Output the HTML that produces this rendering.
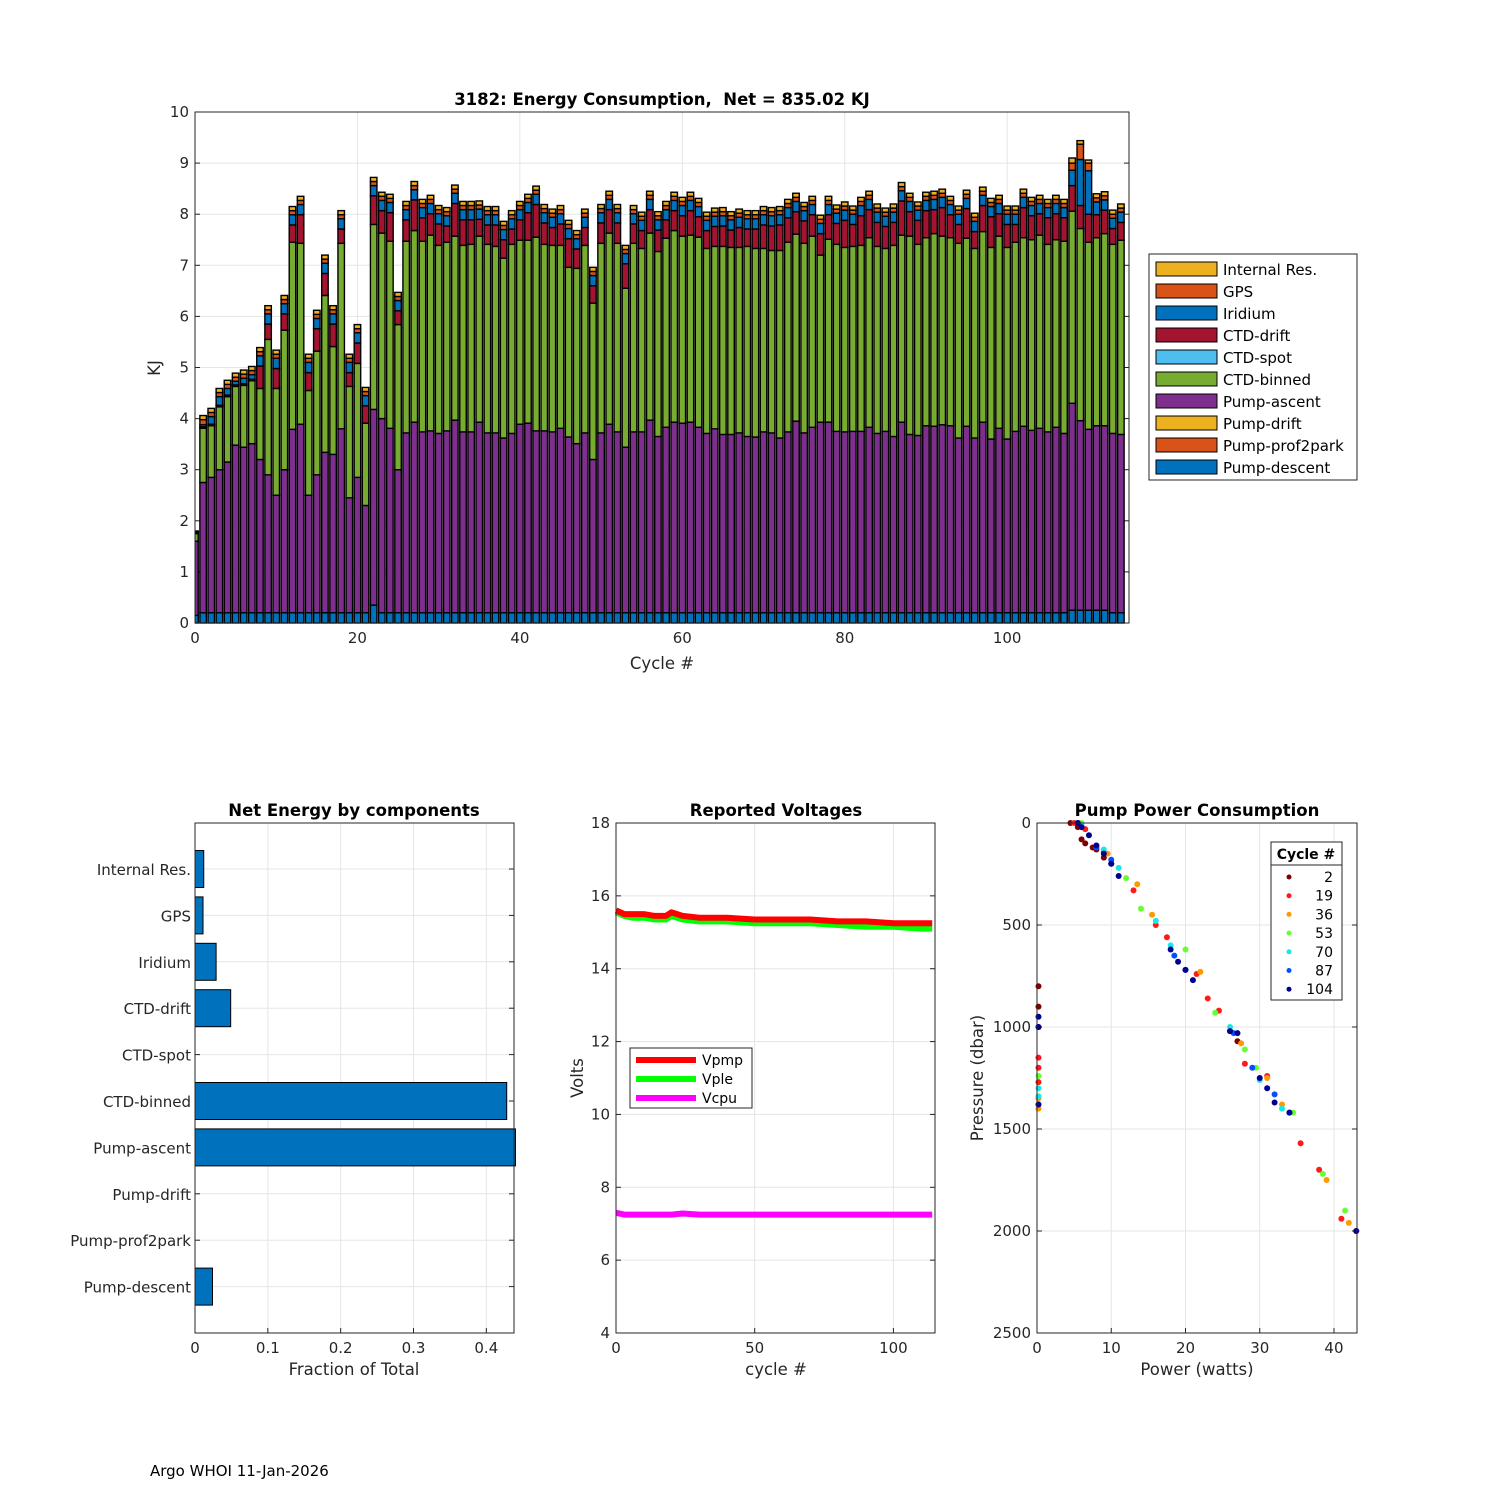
<!DOCTYPE html>
<html><head><meta charset="utf-8">
<style>
html,body{margin:0;padding:0;background:#fff;}
svg{display:block;font-family:"DejaVu Sans","Liberation Sans",sans-serif;}
</style></head>
<body>
<svg id="fig" width="1500" height="1500" viewBox="0 0 1500 1500">
<rect x="0" y="0" width="1500" height="1500" fill="#fff"/>
<text x="150" y="1476" font-size="15" fill="#000">Argo WHOI 11-Jan-2026</text>
</svg>
<script>
// ===== Top chart data (KJ per cycle) =====
const cycles = Array.from({length:115},(_, i)=>i);
const descent = [0.15,0.2,0.2,0.2,0.2,0.2,0.2,0.2,0.2,0.2,0.2,0.2,0.2,0.2,0.2,0.2,0.2,0.2,0.2,0.2,0.2,0.2,0.35,0.2,0.2,0.2,0.2,0.2,0.2,0.2,0.2,0.2,0.2,0.2,0.2,0.2,0.2,0.2,0.2,0.2,0.2,0.2,0.2,0.2,0.2,0.2,0.2,0.2,0.2,0.2,0.2,0.2,0.2,0.2,0.2,0.2,0.2,0.2,0.2,0.2,0.2,0.2,0.2,0.2,0.2,0.2,0.2,0.2,0.2,0.2,0.2,0.2,0.2,0.2,0.2,0.2,0.2,0.2,0.2,0.2,0.2,0.2,0.2,0.2,0.2,0.2,0.2,0.2,0.2,0.2,0.2,0.2,0.2,0.2,0.2,0.2,0.2,0.2,0.2,0.2,0.2,0.2,0.2,0.2,0.2,0.2,0.2,0.2,0.25,0.25,0.25,0.25,0.25,0.2,0.2];
const prof2park = new Array(115).fill(0);
const pumpDrift = new Array(115).fill(0);
const ascent = [1.45,2.55,2.65,2.8,2.95,3.28,3.24,3.31,3.0,2.7,2.3,2.8,3.59,3.69,2.3,2.7,3.14,3.1,3.6,2.25,2.65,2.1,3.83,3.8,3.61,2.8,3.52,3.73,3.54,3.56,3.51,3.56,3.77,3.54,3.54,3.73,3.52,3.52,3.42,3.51,3.69,3.71,3.56,3.56,3.54,3.61,3.44,3.31,3.52,3.0,3.52,3.69,3.54,3.24,3.54,3.54,3.77,3.45,3.63,3.73,3.71,3.73,3.63,3.51,3.6,3.49,3.49,3.52,3.45,3.44,3.54,3.52,3.42,3.54,3.75,3.52,3.63,3.73,3.73,3.55,3.54,3.55,3.55,3.63,3.51,3.55,3.45,3.73,3.49,3.47,3.66,3.65,3.68,3.66,3.42,3.65,3.42,3.73,3.4,3.61,3.4,3.55,3.65,3.57,3.61,3.54,3.63,3.51,4.05,3.71,3.54,3.61,3.61,3.51,3.49];
const ctdSpot = new Array(115).fill(0);
const binned = [0.15,1.06,1.01,1.23,1.28,1.15,1.21,1.23,1.39,2.65,2.09,2.73,3.66,3.54,2.05,2.42,3.07,2.11,3.63,2.18,2.23,1.61,3.62,3.63,3.66,2.84,3.75,3.75,3.73,3.83,3.68,3.69,3.6,3.65,3.67,3.64,3.69,3.65,3.52,3.7,3.6,3.58,3.79,3.65,3.65,3.58,3.32,3.43,3.67,3.06,3.71,3.74,3.69,3.11,3.69,3.59,3.66,3.62,3.7,3.75,3.66,3.66,3.72,3.62,3.57,3.68,3.66,3.63,3.72,3.69,3.59,3.57,3.67,3.71,3.66,3.71,3.74,3.27,3.58,3.66,3.61,3.62,3.64,3.71,3.66,3.58,3.74,3.66,3.88,3.74,3.68,3.77,3.69,3.68,3.81,3.68,3.71,3.73,3.75,3.76,3.75,3.7,3.69,3.73,3.78,3.67,3.67,3.76,3.76,3.76,3.66,3.68,3.76,3.7,3.8];
const ctdDrift = [0.02,0.03,0.03,0.03,0.03,0.03,0.03,0.03,0.44,0.30,0.39,0.32,0.34,0.56,0.35,0.44,0.43,0.44,0.28,0.27,0.40,0.34,0.56,0.44,0.56,0.27,0.42,0.60,0.46,0.42,0.42,0.32,0.64,0.50,0.48,0.33,0.38,0.42,0.36,0.30,0.40,0.54,0.64,0.42,0.35,0.42,0.56,0.38,0.35,0.34,0.40,0.46,0.40,0.48,0.38,0.35,0.46,0.42,0.36,0.39,0.40,0.48,0.40,0.35,0.39,0.40,0.34,0.39,0.34,0.38,0.46,0.48,0.50,0.48,0.44,0.44,0.42,0.42,0.48,0.41,0.53,0.43,0.58,0.55,0.47,0.43,0.45,0.67,0.48,0.47,0.53,0.47,0.56,0.45,0.37,0.58,0.33,0.51,0.60,0.44,0.45,0.35,0.59,0.47,0.42,0.52,0.51,0.46,0.50,0.45,0.55,0.45,0.46,0.31,0.35];
const iridium = [0.01,0.04,0.15,0.17,0.13,0.07,0.11,0.09,0.2,0.2,0.2,0.2,0.2,0.2,0.2,0.2,0.2,0.2,0.2,0.2,0.2,0.2,0.2,0.2,0.2,0.2,0.2,0.2,0.2,0.2,0.2,0.2,0.2,0.2,0.2,0.2,0.2,0.2,0.2,0.2,0.2,0.2,0.2,0.2,0.2,0.2,0.2,0.2,0.2,0.2,0.2,0.2,0.2,0.2,0.2,0.2,0.2,0.2,0.2,0.2,0.2,0.2,0.2,0.2,0.2,0.2,0.2,0.2,0.2,0.2,0.2,0.2,0.2,0.2,0.2,0.2,0.2,0.2,0.2,0.2,0.2,0.2,0.2,0.2,0.2,0.2,0.2,0.2,0.2,0.2,0.2,0.2,0.2,0.2,0.2,0.2,0.2,0.2,0.2,0.2,0.2,0.2,0.2,0.2,0.2,0.2,0.2,0.2,0.3,0.9,0.85,0.25,0.2,0.2,0.2];
const gps = [0.01,0.1,0.08,0.08,0.08,0.08,0.08,0.08,0.08,0.08,0.08,0.08,0.08,0.08,0.08,0.08,0.08,0.08,0.08,0.08,0.08,0.08,0.08,0.08,0.08,0.08,0.08,0.08,0.08,0.08,0.08,0.08,0.08,0.08,0.08,0.08,0.08,0.08,0.08,0.08,0.08,0.08,0.08,0.08,0.08,0.08,0.08,0.08,0.08,0.08,0.08,0.08,0.08,0.08,0.08,0.08,0.08,0.08,0.08,0.08,0.08,0.08,0.08,0.08,0.08,0.08,0.08,0.08,0.08,0.08,0.08,0.08,0.08,0.08,0.08,0.08,0.08,0.08,0.08,0.08,0.08,0.08,0.08,0.08,0.08,0.08,0.08,0.08,0.08,0.08,0.08,0.08,0.08,0.08,0.08,0.08,0.08,0.08,0.08,0.08,0.08,0.08,0.08,0.08,0.08,0.08,0.08,0.08,0.14,0.3,0.15,0.08,0.08,0.08,0.08];
const internalRes = [0.01,0.08,0.08,0.08,0.08,0.08,0.08,0.08,0.08,0.08,0.08,0.08,0.08,0.08,0.08,0.08,0.08,0.08,0.08,0.08,0.08,0.08,0.08,0.08,0.08,0.08,0.08,0.08,0.08,0.08,0.08,0.08,0.08,0.08,0.08,0.08,0.08,0.08,0.08,0.08,0.08,0.08,0.08,0.08,0.08,0.08,0.08,0.08,0.08,0.08,0.08,0.08,0.08,0.08,0.08,0.08,0.08,0.08,0.08,0.08,0.08,0.08,0.08,0.08,0.08,0.08,0.08,0.08,0.08,0.08,0.08,0.08,0.08,0.08,0.08,0.08,0.08,0.08,0.08,0.08,0.08,0.08,0.08,0.08,0.08,0.08,0.08,0.08,0.08,0.08,0.08,0.08,0.08,0.08,0.08,0.08,0.08,0.08,0.08,0.08,0.08,0.08,0.08,0.08,0.08,0.08,0.08,0.08,0.1,0.07,0.06,0.08,0.08,0.08,0.08];
const seriesNames = ["Pump-descent","Pump-prof2park","Pump-drift","Pump-ascent","CTD-binned","CTD-spot","CTD-drift","Iridium","GPS","Internal Res."];
const yTicksTop = [0,1,2,3,4,5,6,7,8,9,10];
const xTicksTop = [0,20,40,60,80,100];

// ===== Bottom-left: fractions =====
const compNames = ["Internal Res.","GPS","Iridium","CTD-drift","CTD-spot","CTD-binned","Pump-ascent","Pump-drift","Pump-prof2park","Pump-descent"];
const compFrac = [0.012,0.011,0.029,0.049,0,0.428,0.44,0,0,0.024];
const fracTicks = [0,0.1,0.2,0.3,0.4];

// ===== Bottom-middle: voltages =====
const vCycles = [0,3,6,10,14,18,20,24,30,40,50,60,70,80,90,100,110,114];
const vpmp = [15.6,15.5,15.5,15.5,15.45,15.45,15.55,15.45,15.4,15.4,15.35,15.35,15.35,15.3,15.3,15.25,15.25,15.25];
const vple = [15.55,15.45,15.4,15.4,15.35,15.35,15.45,15.35,15.3,15.3,15.25,15.25,15.25,15.2,15.15,15.15,15.1,15.1];
const vcpu = [7.3,7.25,7.25,7.25,7.25,7.25,7.25,7.28,7.25,7.25,7.25,7.25,7.25,7.25,7.25,7.25,7.25,7.25];
const voltTicks = [4,6,8,10,12,14,16,18];
const cycTicks = [0,50,100];

// ===== Bottom-right: pump power scatter =====
const scatCycles = [2,19,36,53,70,87,104];
const scatColors = ["#800000","#ff1a1a","#ff9900","#66ff33","#1ae6e6","#0050ff","#000090"];
const scatPower = [
 [4.5,5.5,6,6.5,7.5,8,9,10,26,27,0.2,0.2,0.2],
 [5,6.5,9,13,16,17.5,21.5,23,24.5,28,31,35.5,38,41,43,0.2,0.2,0.2],
 [5.5,9.5,13.5,15.5,22,27.5,31,33,39,42,0.2,0.2],
 [6,8,12,14,20,24,28,29.5,34.5,38.5,41.5,0.2],
 [6,9,11,16,18,26,30,33,0.2,0.2],
 [5.5,8,10,18.5,20,26.5,29,32,34,0.2],
 [5.5,6,7,8,9,10,11,18,19,20,21,26,27,30,31,32,34,0.2,0.2,0.2,43]
];
const scatPressure = [
 [0,20,80,100,120,130,170,200,1020,1070,800,900,1000],
 [0,30,140,330,500,560,740,860,920,1180,1240,1570,1700,1940,2000,1150,1200,1270],
 [0,150,300,450,730,1080,1250,1380,1750,1960,1350,1400],
 [0,110,270,420,620,930,1110,1200,1420,1720,1900,1240],
 [10,130,220,480,600,1000,1260,1400,1340,1300],
 [0,120,180,650,720,1030,1200,1330,1420,1380],
 [0,20,60,110,150,200,260,620,680,720,770,1020,1030,1250,1300,1370,1420,950,1000,1380,2000]
];
const powTicks = [0,10,20,30,40];
const presTicks = [0,500,1000,1500,2000,2500];

// ===== Drawing =====
const NS = "http://www.w3.org/2000/svg";
const svg = document.getElementById('fig');
function mk(tag, attrs, parent){
  const e = document.createElementNS(NS, tag);
  for (const k in attrs) e.setAttribute(k, attrs[k]);
  (parent||svg).appendChild(e);
  return e;
}
function txt(str, attrs, parent){
  const e = mk('text', attrs, parent);
  e.textContent = str;
  return e;
}
const AX = "#262626", GRID = "#e5e5e5";

// --- Top chart axes
const T = {l:195, r:1129, t:112, b:623, xmin:0, xmax:115, ymin:0, ymax:10};
const xT = v => T.l + (v - T.xmin)/(T.xmax - T.xmin)*(T.r - T.l);
const yT = v => T.b - (v - T.ymin)/(T.ymax - T.ymin)*(T.b - T.t);
const gTop = mk('g', {});


mk('rect', {x:T.l, y:T.t, width:T.r-T.l, height:T.b-T.t, fill:'#fff'}, gTop);
xTicksTop.forEach(v=>{
  mk('line',{x1:xT(v),x2:xT(v),y1:T.t,y2:T.b,stroke:GRID,'stroke-width':1}, gTop);
  mk('line',{x1:xT(v),x2:xT(v),y1:T.b,y2:T.b-5,stroke:AX}, gTop);
  const l = txt(String(v),{x:xT(v),y:T.b+20,'font-size':15,'text-anchor':'middle',fill:AX}, gTop);
  
  
});
yTicksTop.forEach(v=>{
  mk('line',{x1:T.l,x2:T.r,y1:yT(v),y2:yT(v),stroke:GRID,'stroke-width':1}, gTop);
  mk('line',{x1:T.l,x2:T.l+5,y1:yT(v),y2:yT(v),stroke:AX}, gTop);
  mk('line',{x1:T.r,x2:T.r-5,y1:yT(v),y2:yT(v),stroke:AX}, gTop);
});
const stackSeries = [descent,prof2park,pumpDrift,ascent,binned,ctdSpot,ctdDrift,iridium,gps,internalRes];
const stackColors = ["#0072BD","#D95319","#EDB120","#7E2F8E","#77AC30","#4DBEEE","#A2142F","#0072BD","#D95319","#EDB120"];
const bw = 0.8;
cycles.forEach((c,i)=>{
  let base = 0;
  stackSeries.forEach((s,k)=>{
    const v = s[i];
    if (v <= 0) return;
    const y1 = yT(base+v), y0 = yT(base);
    const r = mk('rect',{x:xT(c-bw/2), y:y1, width:xT(c+bw/2)-xT(c-bw/2), height:y0-y1, fill:stackColors[k], stroke:'#000','stroke-width':1.4}, gTop);
    
    
    base += v;
  });
});
// cover left overflow of bar 0
mk('rect',{x:T.l-8,y:T.t,width:8,height:T.b-T.t+1,fill:'#fff'}, gTop);
mk('rect',{x:T.l, y:T.t, width:T.r-T.l, height:T.b-T.t, fill:'none', stroke:AX,'stroke-width':1}, gTop);
yTicksTop.forEach(v=>{
  const l = txt(String(v),{x:T.l-6,y:yT(v)+5,'font-size':15,'text-anchor':'end',fill:AX}, gTop);
  
  
});
let e;
e = txt('3182: Energy Consumption,\u00a0\u00a0Net = 835.02 KJ',{x:662,y:105,'font-size':16.5,'font-weight':'bold','text-anchor':'middle',fill:'#000'}, gTop);


e = txt('Cycle #',{x:662,y:669,'font-size':16.5,'text-anchor':'middle',fill:AX}, gTop);


e = txt('KJ',{x:0,y:0,'font-size':16.5,'text-anchor':'middle',fill:AX,transform:'translate(160,368) rotate(-90)'}, gTop);



// legend
const lg = mk('g',{});


mk('rect',{x:1149,y:254,width:208,height:226,fill:'#fff',stroke:AX}, lg);
for (let k=9;k>=0;k--){
  const row = 9-k;
  const yy = 262 + row*22;
  const ent = mk('g',{}, lg);
  
  
  mk('rect',{x:1156,y:yy,width:61,height:14,fill:stackColors[k],stroke:'#000'}, ent);
  txt(seriesNames[k],{x:1223,y:yy+13,'font-size':15,fill:'#000'}, ent);
}

// --- Bottom-left: fractions
const F = {l:195, r:514, t:823, b:1333, xmax:0.438};
const xF = v => F.l + v/F.xmax*(F.r-F.l);
const yF = i => 869 + i*46.4;
const gF = mk('g',{});


fracTicks.forEach(v=>{
  mk('line',{x1:xF(v),x2:xF(v),y1:F.t,y2:F.b,stroke:GRID}, gF);
  mk('line',{x1:xF(v),x2:xF(v),y1:F.b,y2:F.b-5,stroke:AX}, gF);
  e = txt(String(v),{x:xF(v),y:F.b+20,'font-size':15,'text-anchor':'middle',fill:AX}, gF);
  
  
});
compNames.forEach((n,i)=>{
  mk('line',{x1:F.l,x2:F.r,y1:yF(i),y2:yF(i),stroke:GRID}, gF);
  mk('line',{x1:F.l,x2:F.l+5,y1:yF(i),y2:yF(i),stroke:AX}, gF);
  mk('line',{x1:F.r,x2:F.r-5,y1:yF(i),y2:yF(i),stroke:AX}, gF);
  e = txt(n,{x:F.l-4,y:yF(i)+6,'font-size':15,'text-anchor':'end',fill:AX}, gF);
  
  
  if (compFrac[i] > 0){
    const b = mk('rect',{x:F.l,y:yF(i)-18.5,width:xF(compFrac[i])-F.l,height:37,fill:'#0072BD',stroke:'#000'}, gF);
    
    
  }
});
mk('rect',{x:F.l,y:F.t,width:F.r-F.l,height:F.b-F.t,fill:'none',stroke:AX}, gF);
e = txt('Net Energy by components',{x:354,y:816,'font-size':16.5,'font-weight':'bold','text-anchor':'middle',fill:'#000'}, gF);


e = txt('Fraction of Total',{x:354,y:1375,'font-size':16.5,'text-anchor':'middle',fill:AX}, gF);



// --- Bottom-middle: voltages
const V = {l:616, r:935, t:823, b:1333, xmax:115, ymin:4, ymax:18};
const xV = v => V.l + v/V.xmax*(V.r-V.l);
const yV = v => V.b - (v-V.ymin)/(V.ymax-V.ymin)*(V.b-V.t);
const gV = mk('g',{});


cycTicks.forEach(v=>{
  mk('line',{x1:xV(v),x2:xV(v),y1:V.t,y2:V.b,stroke:GRID}, gV);
  mk('line',{x1:xV(v),x2:xV(v),y1:V.b,y2:V.b-5,stroke:AX}, gV);
  e = txt(String(v),{x:xV(v),y:V.b+20,'font-size':15,'text-anchor':'middle',fill:AX}, gV);
  
  
});
voltTicks.forEach(v=>{
  mk('line',{x1:V.l,x2:V.r,y1:yV(v),y2:yV(v),stroke:GRID}, gV);
  mk('line',{x1:V.l,x2:V.l+5,y1:yV(v),y2:yV(v),stroke:AX}, gV);
  mk('line',{x1:V.r,x2:V.r-5,y1:yV(v),y2:yV(v),stroke:AX}, gV);
  e = txt(String(v),{x:V.l-6,y:yV(v)+5,'font-size':15,'text-anchor':'end',fill:AX}, gV);
  
  
});
function vline(arr, col, name){
  const pts = vCycles.map((c,i)=>xV(c).toFixed(1)+','+yV(arr[i]).toFixed(1)).join(' ');
  const p = mk('polyline',{points:pts,fill:'none',stroke:col,'stroke-width':6,'stroke-linejoin':'round'}, gV);
  
  
}
vline(vcpu,'#ff00ff','vcpu-line');
vline(vple,'#00ff00','vple-line');
vline(vpmp,'#ff0000','vpmp-line');
mk('rect',{x:V.l,y:V.t,width:V.r-V.l,height:V.b-V.t,fill:'none',stroke:AX}, gV);
const vl = mk('g',{}, gV);


mk('rect',{x:630,y:1048,width:122,height:60,fill:'#fff',stroke:AX}, vl);
[['Vpmp','#ff0000'],['Vple','#00ff00'],['Vcpu','#ff00ff']].forEach((d,i)=>{
  const yy = 1060 + i*19;
  mk('line',{x1:636,x2:696,y1:yy,y2:yy,stroke:d[1],'stroke-width':6}, vl);
  txt(d[0],{x:702,y:yy+5,'font-size':14,fill:'#000'}, vl);
});
e = txt('Reported Voltages',{x:776,y:816,'font-size':16.5,'font-weight':'bold','text-anchor':'middle',fill:'#000'}, gV);


e = txt('cycle #',{x:776,y:1375,'font-size':16.5,'text-anchor':'middle',fill:AX}, gV);


e = txt('Volts',{x:0,y:0,'font-size':16.5,'text-anchor':'middle',fill:AX,transform:'translate(583,1078) rotate(-90)'}, gV);



// --- Bottom-right: pump power
const P = {l:1037, r:1357, t:823, b:1333, xmax:43.1, ymax:2500};
const xP = v => P.l + v/P.xmax*(P.r-P.l);
const yP = v => P.t + v/P.ymax*(P.b-P.t);
const gP = mk('g',{});


powTicks.forEach(v=>{
  mk('line',{x1:xP(v),x2:xP(v),y1:P.t,y2:P.b,stroke:GRID}, gP);
  mk('line',{x1:xP(v),x2:xP(v),y1:P.b,y2:P.b-5,stroke:AX}, gP);
  e = txt(String(v),{x:xP(v),y:P.b+20,'font-size':15,'text-anchor':'middle',fill:AX}, gP);
  
  
});
presTicks.forEach(v=>{
  mk('line',{x1:P.l,x2:P.r,y1:yP(v),y2:yP(v),stroke:GRID}, gP);
  mk('line',{x1:P.l,x2:P.l+5,y1:yP(v),y2:yP(v),stroke:AX}, gP);
  mk('line',{x1:P.r,x2:P.r-5,y1:yP(v),y2:yP(v),stroke:AX}, gP);
  e = txt(String(v),{x:P.l-6,y:yP(v)+5,'font-size':15,'text-anchor':'end',fill:AX}, gP);
  
  
});
scatCycles.forEach((c,k)=>{
  scatPower[k].forEach((pw,j)=>{
    const d = mk('circle',{cx:xP(pw),cy:yP(scatPressure[k][j]),r:3,fill:scatColors[k]}, gP);
    
    
  });
});
mk('rect',{x:P.l,y:P.t,width:P.r-P.l,height:P.b-P.t,fill:'none',stroke:AX}, gP);
const pl = mk('g',{}, gP);


mk('rect',{x:1271,y:842,width:71,height:158,fill:'#fff',stroke:AX}, pl);
mk('line',{x1:1271,x2:1342,y1:865,y2:865,stroke:AX}, pl);
txt('Cycle #',{x:1306,y:859,'font-size':14,'font-weight':'bold','text-anchor':'middle',fill:'#000'}, pl);
scatCycles.forEach((c,k)=>{
  const yy = 877 + k*18.7;
  mk('circle',{cx:1289,cy:yy,r:2.5,fill:scatColors[k]}, pl);
  txt(String(c),{x:1333,y:yy+5,'font-size':14,'text-anchor':'end',fill:'#000'}, pl);
});
e = txt('Pump Power Consumption',{x:1197,y:816,'font-size':16.5,'font-weight':'bold','text-anchor':'middle',fill:'#000'}, gP);


e = txt('Power (watts)',{x:1197,y:1375,'font-size':16.5,'text-anchor':'middle',fill:AX}, gP);


e = txt('Pressure (dbar)',{x:0,y:0,'font-size':16.5,'text-anchor':'middle',fill:AX,transform:'translate(983,1078) rotate(-90)'}, gP);


</script>
</body></html>
